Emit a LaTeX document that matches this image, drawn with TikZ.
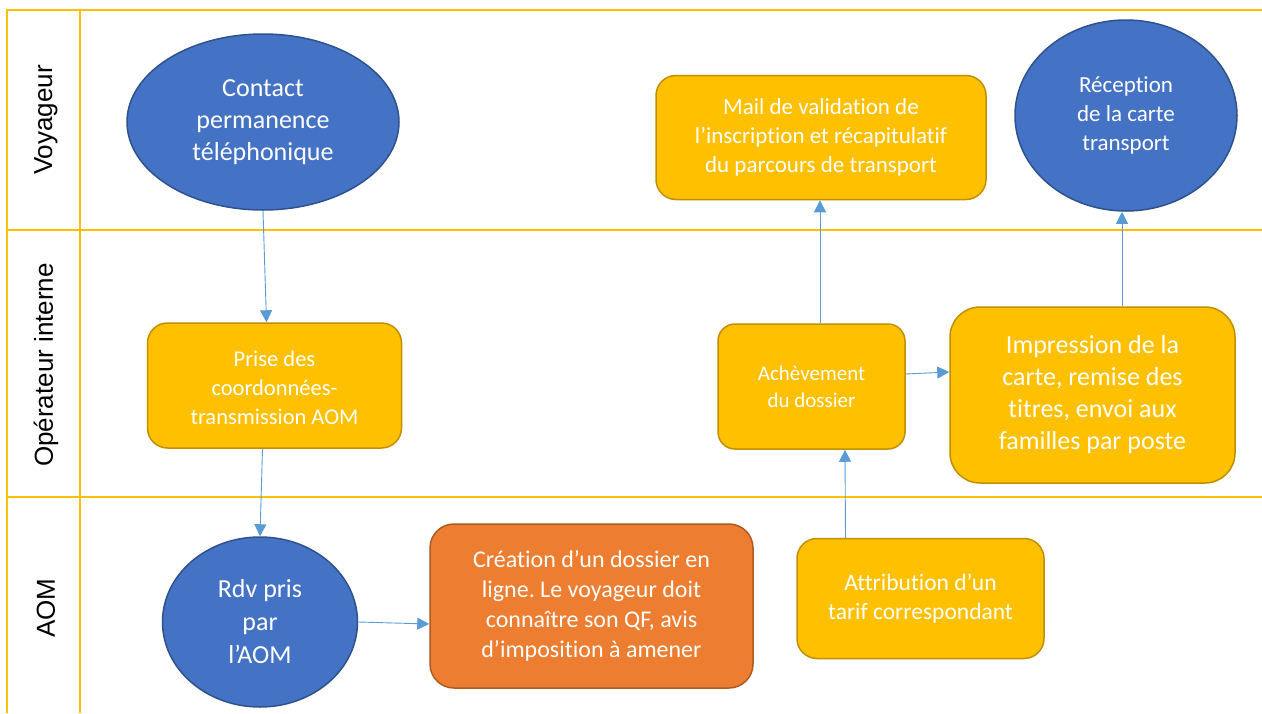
\documentclass[tikz,border=0pt]{standalone}
\usepackage{fontspec}
\setmainfont{Carlito}[Ligatures=NoCommon]
\newfontfamily\lanefont{Liberation Sans}
\usetikzlibrary{shapes.geometric,arrows.meta,calc}
\definecolor{lane}{HTML}{FFC000}
\definecolor{blueF}{HTML}{4472C4}
\definecolor{blueD}{HTML}{2F528F}
\definecolor{yelF}{HTML}{FFC000}
\definecolor{yelD}{HTML}{BF9000}
\definecolor{orF}{HTML}{ED7D31}
\definecolor{orD}{HTML}{AE5A21}
\definecolor{arr}{HTML}{5B9BD5}
\newcommand{\fs}[2]{\fontsize{#1}{#2}\selectfont}
\frenchspacing
\begin{document}
\begin{tikzpicture}[x=1pt,y=-1pt,
 lanel/.style={draw=lane,line width=2.5pt},
 oval/.style={ellipse,draw=blueD,fill=blueF,line width=1.5pt,text=white,align=center,inner sep=0pt},
 ybox/.style={rectangle,rounded corners=20pt,draw=yelD,fill=yelF,line width=1.5pt,text=white,align=center,inner sep=0pt},
 obox/.style={ybox,draw=orD,fill=orF},
 conn/.style={draw=arr,line width=0.9pt,-{Triangle[length=12pt,width=12pt]}},
 lbl/.style={rotate=90,text=black,font=\lanefont\fs{26}{30}}]
\useasboundingbox (0,0) rectangle (1262,713);
% lanes
\draw[lanel] (1262,10) -- (7,10) -- (7,713);
\draw[lanel] (80,10) -- (80,713);
\draw[lanel] (7,230) -- (1262,230);
\draw[lanel] (7,497) -- (1262,497);
\node[lbl] (lv) at (46,120) {Voyageur};
\node[lbl] (lo) at (46,365) {Opérateur interne};
\node[lbl] (la) at (46,608) {AOM};
% shapes
\node[oval,minimum width=272pt,minimum height=176pt,font=\fs{26}{32}] (contact) at (263,122) {Contact\\permanence\\téléphonique};
\node[ybox,minimum width=330pt,minimum height=124pt,font=\fs{23}{29}] (mail) at (821,137.5) {Mail de validation de\\l’inscription et récapitulatif\\du parcours de transport};
\node[oval,minimum width=222pt,minimum height=191pt,font=\fs{23}{29}] (rec) at (1126,115.5) {Réception\\de la carte\\transport};
\node[ybox,minimum width=254pt,minimum height=125pt,font=\fs{22.5}{29}] (prise) at (274.5,385.5) {\rule{0pt}{21pt}Prise des\\coordonnées-\\transmission AOM};
\node[ybox,minimum width=187pt,minimum height=125pt,rounded corners=17pt,font=\fs{21}{27}] (ach) at (811.5,386.5) {Achèvement\\du dossier};
\node[ybox,minimum width=285pt,minimum height=176pt,rounded corners=30pt,font=\fs{26}{32}] (imp) at (1092.5,395) {Impression de la\\carte, remise des\\titres, envoi aux\\familles par poste};
\node[oval,minimum width=195pt,minimum height=170pt,font=\fs{26}{33}] (rdv) at (260,622) {Rdv pris\\par\\l’AOM};
\node[obox,minimum width=323pt,minimum height=164pt,rounded corners=24pt,font=\fs{24}{30}] (crea) at (591.5,606) {Création d’un dossier en\\ligne. Le voyageur doit\\connaître son QF, avis\\d’imposition à amener};
\node[ybox,minimum width=247pt,minimum height=120pt,font=\fs{23.5}{29}] (attr) at (920.5,598.5) {Attribution d’un\\tarif correspondant};
% connectors
\draw[conn] (contact.south) -- ($(prise.north)+(-8,0)$);
\draw[conn] ($(prise.south)+(-12,0)$) -- (rdv.north);
\draw[conn] (rdv.east) -- ($(crea.west)+(0,18)$);
\draw[conn] ($(attr.north)+(-75,0)$) -- ($(ach.south)+(33.5,0)$);
\draw[conn] ($(ach.north)+(8.5,0)$) -- ($(mail.south)+(-1,0)$);
\draw[conn] ($(ach.east)+(0,-12.5)$) -- ($(imp.west)+(0,-23)$);
\draw[conn] ($(imp.north)+(29.5,0)$) -- ($(rec.south)+(-4,0)$);
\end{tikzpicture}
\end{document}
